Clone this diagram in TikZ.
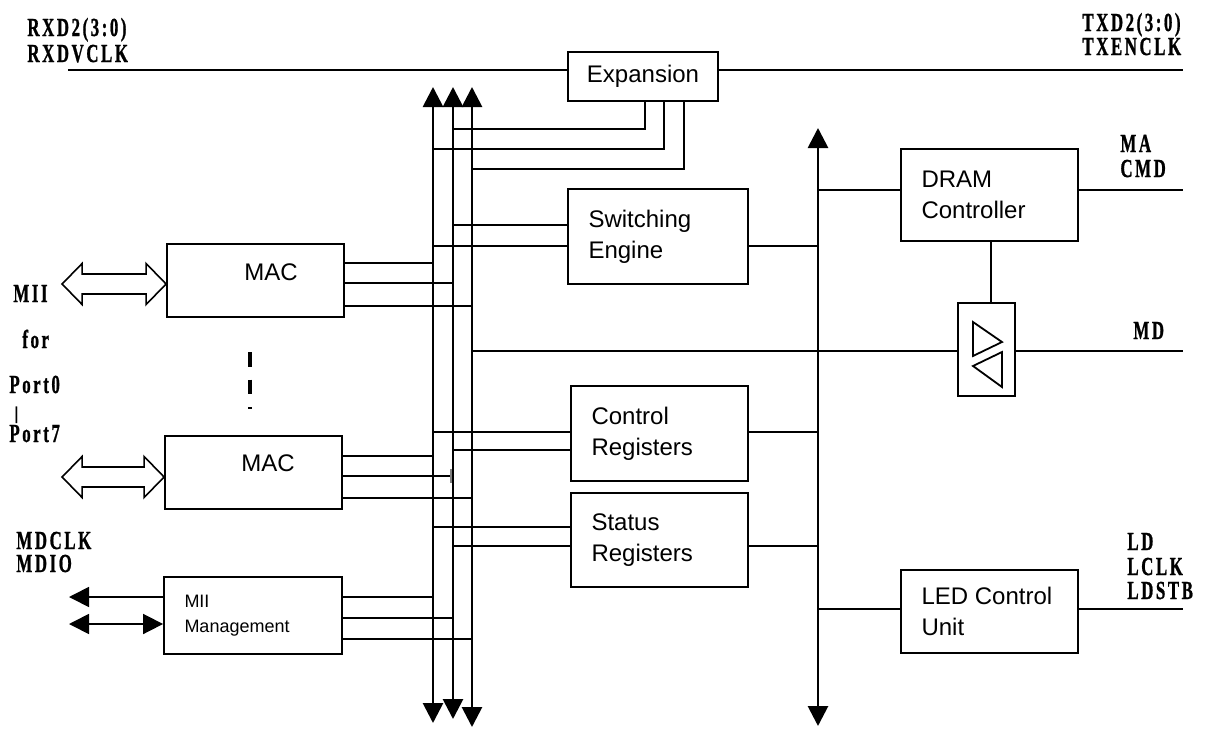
\documentclass[tikz,border=0pt]{standalone}
\usepackage{fontspec}
\setmainfont{Liberation Sans}
\newfontfamily\pinfont[LetterSpace=15,FakeBold=1.2]{Liberation Serif Bold}
\usepackage{graphicx}
\usetikzlibrary{arrows.meta}
\tikzstyle{blk}=[draw, line width=0.9pt, inner sep=0pt, minimum width=88.5pt, font=\fontsize{12}{15.5}\selectfont]
\tikzstyle{txt}=[inner sep=0pt, align=left, anchor=west, font=\fontsize{12}{15.5}\selectfont]
\tikzstyle{pin}=[inner sep=0pt, anchor=base west]
\tikzstyle{wire}=[line width=0.85pt]
\tikzstyle{bus}=[line width=1.4pt, {Triangle[length=10pt,width=10pt]}-{Triangle[length=10pt,width=10pt]}]
\tikzstyle{hollow}=[line width=0.8pt, line join=miter]
\newcommand{\pinlbl}[1]{\scalebox{0.65}[1]{\fontsize{13}{14}\pinfont #1}}

\begin{document}
\begin{tikzpicture}[x=0.5pt,y=-0.5pt]
\useasboundingbox (0,0) rectangle (1212,729);
\node[blk,minimum width=75pt,minimum height=24.5pt] (exp) at (643,76.5) {Expansion};
\node[blk,minimum width=90pt,minimum height=47.5pt] (sw) at (658,236.5) {};
\node[txt] (swtxt) at ([xshift=10.5pt]sw.west) {Switching\\Engine};
\node[blk,minimum height=47.5pt] (ctrl) at (659.5,433.5) {};
\node[txt] (ctrltxt) at ([xshift=10.5pt]ctrl.west) {Control\\Registers};
\node[blk,minimum height=47pt] (stat) at (659.5,540) {};
\node[txt] (stattxt) at ([xshift=10.5pt]stat.west) {Status\\Registers};
\node[blk,minimum height=46pt] (dram) at (989.5,195) {};
\node[txt] (dramtxt) at ([xshift=10.5pt]dram.west) {DRAM\\Controller};
\node[blk,minimum height=41.5pt] (led) at (989.5,611.5) {};
\node[txt] (ledtxt) at ([xshift=10.5pt]led.west) {LED Control\\Unit};
\node[blk,minimum height=36.5pt] (mac1) at (255.5,280.5) {};
\node[font=\fontsize{12}{15.5}\selectfont] (mac1txt) at (271,272) {MAC};
\node[blk,minimum height=36.5pt] (mac2) at (253.5,472.5) {};
\node[font=\fontsize{12}{15.5}\selectfont] (mac2txt) at (268,463) {MAC};
\node[blk,minimum width=89pt,minimum height=38.5pt] (mgmt) at (253,615.5) {};
\node[txt,font=\fontsize{9}{12.5}\selectfont] (mgmttxt) at ([xshift=10.5pt]mgmt.west) {MII\\Management};
\node[blk,minimum width=28.5pt,minimum height=46.5pt] (buf) at (986.5,349.5) {};
\draw[line width=0.9pt] (973,322) -- (1002,342) -- (973,356) -- cycle;
\draw[line width=0.9pt] (1002,352) -- (973,366) -- (1002,387) -- cycle;

\coordinate (bAt) at (433,87);
\coordinate (bAb) at (433,723);
\coordinate (bBt) at (453,87);
\coordinate (bBb) at (453,719);
\coordinate (bCt) at (472,87);
\coordinate (bCb) at (472,727);
\coordinate (rbt) at (818,128);
\coordinate (rbb) at (818,726);
\draw[bus] (bAt) -- (bAb);
\draw[bus] (bBt) -- (bBb);
\draw[bus] (bCt) -- (bCb);
\draw[bus] (rbt) -- (rbb);

\coordinate (rxd) at (68,70);
\coordinate (txd) at (1183,70);
\draw[wire] (rxd) -- (exp.west |- rxd);
\draw[wire] (exp.east |- txd) -- (txd);
\draw[wire] (exp.south -| 645,0) |- (bBt |- 0,129);
\draw[wire] (exp.south -| 664,0) |- (bAt |- 0,149);
\draw[wire] (exp.south -| 684,0) |- (bCt |- 0,169);

\draw[wire] (bBt |- 0,225) -- (sw.west |- 0,225);
\draw[wire] (bAt |- 0,246) -- (sw.west |- 0,246);
\draw[wire] (sw.east |- 0,246) -- (rbt |- 0,246);

\draw[wire] (mac1.east |- 0,263) -- (bAt |- 0,263);
\draw[wire] (mac1.east |- 0,283) -- (bBt |- 0,283);
\draw[wire] (mac1.east |- 0,306) -- (bCt |- 0,306);

\coordinate (md) at (1183,351);
\draw[wire] (bCt |- md) -- (buf.west |- md);
\draw[wire] (buf.east |- md) -- (md);
\draw[wire] (dram.south -| 991,0) -- (buf.north -| 991,0);

\coordinate (stub) at (451,476);
\draw[wire] (mac2.east |- 0,456) -- (bAt |- 0,456);
\draw[wire] (mac2.east |- stub) -- (stub);
\draw[gray,line width=0.6pt] ([yshift=3.5pt]stub) -- ([yshift=-3.5pt]stub);
\draw[wire] (mac2.east |- 0,498) -- (bCt |- 0,498);

\draw[wire] (bAt |- 0,432) -- (ctrl.west |- 0,432);
\draw[wire] (bBt |- 0,450) -- (ctrl.west |- 0,450);
\draw[wire] (ctrl.east |- 0,432) -- (rbt |- 0,432);
\draw[wire] (bAt |- 0,527) -- (stat.west |- 0,527);
\draw[wire] (bBt |- 0,546) -- (stat.west |- 0,546);
\draw[wire] (stat.east |- 0,546) -- (rbt |- 0,546);

\draw[wire] (mgmt.east |- 0,597) -- (bAt |- 0,597);
\draw[wire] (mgmt.east |- 0,618) -- (bBt |- 0,618);
\draw[wire] (mgmt.east |- 0,639) -- (bCt |- 0,639);

\coordinate (macmd) at (1183,190);
\draw[wire] (rbt |- macmd) -- (dram.west |- macmd);
\draw[wire] (dram.east |- macmd) -- (macmd);
\coordinate (ldo) at (1183,609);
\draw[wire] (rbt |- ldo) -- (led.west |- ldo);
\draw[wire] (led.east |- ldo) -- (ldo);

\coordinate (mdc) at (69,597);
\coordinate (mdio) at (69,624);
\draw[wire,-{Triangle[length=10pt,width=10pt]}] (mgmt.west |- mdc) -- (mdc);
\draw[wire,{Triangle[length=10pt,width=10pt]}-{Triangle[length=10pt,width=10pt]}] (mdio) -- (mgmt.west |- mdio);

\draw[hollow] (mac1.west |- 0,284) -- ++(-20,-20.5) -- ++(0,10.5) -- ++(-64,0) -- ++(0,-10.5)
  -- ++(-20,20.5) -- ++(20,20.5) -- ++(0,-10.5) -- ++(64,0) -- ++(0,10.5) -- cycle;
\draw[hollow] (mac2.west |- 0,477) -- ++(-20,-20.5) -- ++(0,10.5) -- ++(-62,0) -- ++(0,-10.5)
  -- ++(-20,20.5) -- ++(20,20.5) -- ++(0,-10.5) -- ++(62,0) -- ++(0,10.5) -- cycle;
\draw[line width=2pt, dash pattern=on 7.25pt off 6.5pt] (250,352) -- (250,409);

\node[pin] (rxd2) at (27,36) {\pinlbl{RXD2(3:0)}};
\node[pin] (rxdv) at (27,62) {\pinlbl{RXDVCLK}};
\node[pin] (txd2) at (1082,31) {\pinlbl{TXD2(3:0)}};
\node[pin] (txen) at (1082,55) {\pinlbl{TXENCLK}};
\node[pin] (ma) at (1120,152) {\pinlbl{MA}};
\node[pin] (cmd) at (1120,177) {\pinlbl{CMD}};
\node[pin] (mdl) at (1133,339) {\pinlbl{MD}};
\node[pin] (ld) at (1127,550) {\pinlbl{LD}};
\node[pin] (lclk) at (1127,575) {\pinlbl{LCLK}};
\node[pin] (ldstb) at (1127,599) {\pinlbl{LDSTB}};
\node[pin] (mii) at (13,302) {\pinlbl{MII}};
\node[pin] (for) at (22,348) {\pinlbl{for}};
\node[pin] (p0) at (9,393) {\pinlbl{Port0}};
\node[pin] (bar) at (14,419) {\fontsize{9}{10}\pinfont |};
\node[pin] (p7) at (9,442) {\pinlbl{Port7}};
\node[pin] (mdclk) at (16,549) {\pinlbl{MDCLK}};
\node[pin] (mdiol) at (16,572) {\pinlbl{MDIO}};
\end{tikzpicture}
\end{document}
